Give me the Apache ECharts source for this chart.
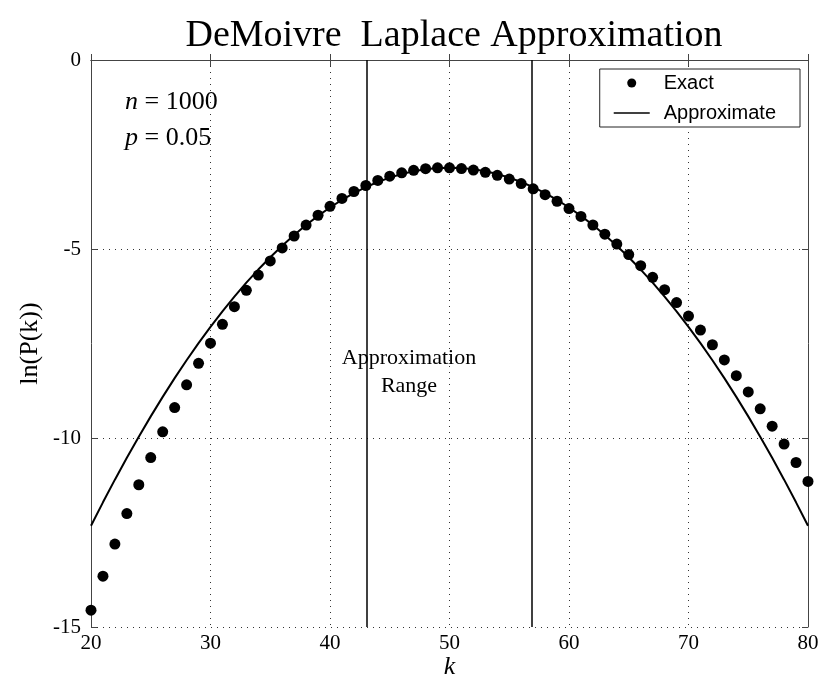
<!DOCTYPE html>
<html>
<head>
<meta charset="utf-8">
<script src="https://cdn.jsdelivr.net/npm/echarts@6/dist/echarts.min.js"></script>
<style>html,body{margin:0;padding:0;background:#fff;}#main{width:818px;height:678px;}</style>
</head>
<body>
<div id="main"></div>
<script>
// k values (x axis)
var kValues = [20,21,22,23,24,25,26,27,28,29,30,31,32,33,34,35,36,37,38,39,40,41,42,43,44,45,46,47,48,49,50,
  51,52,53,54,55,56,57,58,59,60,61,62,63,64,65,66,67,68,69,70,71,72,73,74,75,76,77,78,79,80];
// Exact ln(P(k)) values (dots)
var exactValues = [-14.554,-13.656,-12.805,-11.999,-11.237,-10.517,-9.837,-9.196,-8.592,-8.025,
  -7.492,-6.993,-6.527,-6.092,-5.689,-5.316,-4.972,-4.656,-4.368,-4.107,
  -3.872,-3.663,-3.479,-3.320,-3.185,-3.073,-2.984,-2.918,-2.874,-2.852,
  -2.851,
  -2.871,-2.911,-2.971,-3.051,-3.151,-3.270,-3.407,-3.563,-3.737,-3.929,
  -4.138,-4.365,-4.609,-4.870,-5.147,-5.441,-5.750,-6.076,-6.417,-6.774,
  -7.146,-7.533,-7.935,-8.351,-8.782,-9.228,-9.687,-10.161,-10.648,-11.149];
// Approximate ln(P(k)) values (solid line)
var approxValues = [-12.323,-11.702,-11.102,-10.523,-9.965,-9.428,-8.912,-8.417,-7.944,-7.491,
  -7.060,-6.649,-6.260,-5.891,-5.544,-5.217,-4.912,-4.628,-4.365,-4.123,
  -3.902,-3.702,-3.523,-3.365,-3.228,-3.112,-3.017,-2.944,-2.891,-2.860,
  -2.849,
  -2.860,-2.891,-2.944,-3.017,-3.112,-3.228,-3.365,-3.523,-3.702,-3.902,
  -4.123,-4.365,-4.628,-4.912,-5.217,-5.544,-5.891,-6.260,-6.649,-7.060,
  -7.491,-7.944,-8.417,-8.912,-9.428,-9.965,-10.523,-11.102,-11.702,-12.323];
// Approximation range bounds
var rangeBounds = [43.1, 56.9];
// Axis ticks
var xTicks = [20,30,40,50,60,70,80];
var yTicks = [-15,-10,-5,0];

var serif = '"Liberation Serif","Times New Roman",serif';
var sans = '"Liberation Sans",Arial,sans-serif';

var exactData = kValues.map(function(k,i){return [k, exactValues[i]];});
var approxData = kValues.map(function(k,i){return [k, approxValues[i]];});

var chart = echarts.init(document.getElementById('main'), null, {renderer:'canvas'});
var axisLineStyle = {color:'#444', width:1};
var gridLineStyle = {color:'#333', width:1, type:[1,5]};

chart.setOption({
  animation:false,
  backgroundColor:'#fff',
  title:{
    text:'DeMoivre  Laplace Approximation',
    left:449, textAlign:'center', top:12,
    textStyle:{fontFamily:serif, fontSize:38, fontWeight:'normal', color:'#000'}
  },
  legend:{
    right:18, top:69,
    orient:'vertical',
    backgroundColor:'#fff',
    borderColor:'#222', borderWidth:1, borderRadius:0,
    padding:[4,24,4,14],
    itemWidth:36, itemHeight:9, itemGap:10,
    textStyle:{fontFamily:sans, fontSize:20, color:'#000', padding:[0,0,0,9]},
    data:[
      {name:'Exact', icon:'circle', itemStyle:{color:'#000', opacity:1}},
      {name:'Approximate', icon:'path://M0,0 L36,0 L36,1.6 L0,1.6 Z', itemStyle:{color:'#000'}}
    ]
  },
  grid:{left:91, right:10, top:60, bottom:51, show:false, outerBoundsMode:'none', containLabel:false},
  xAxis:[{
    type:'value', min:20, max:80, interval:10,
    name:'k', nameLocation:'middle', nameGap:27, nameMoveOverlap:false,
    nameTextStyle:{fontFamily:serif, fontStyle:'italic', fontSize:26, color:'#000'},
    axisLine:{show:true, lineStyle:axisLineStyle},
    axisTick:{show:true, inside:true, length:6, lineStyle:axisLineStyle},
    axisLabel:{fontFamily:serif, fontSize:21, color:'#000', margin:6},
    splitLine:{show:true, lineStyle:gridLineStyle}
  },{
    type:'value', min:20, max:80, interval:10, position:'top',
    axisLine:{show:true, onZero:false, lineStyle:axisLineStyle},
    axisTick:{show:true, inside:true, length:6, lineStyle:axisLineStyle},
    axisLabel:{show:false}, splitLine:{show:false}
  }],
  yAxis:[{
    type:'value', min:-15, max:0, interval:5,
    name:'ln(P(k))', nameLocation:'middle', nameGap:48, nameRotate:90, nameMoveOverlap:false,
    nameTextStyle:{fontFamily:serif, fontSize:26, color:'#000'},
    axisLine:{show:true, onZero:false, lineStyle:axisLineStyle},
    axisTick:{show:true, inside:true, length:6, lineStyle:axisLineStyle},
    axisLabel:{fontFamily:serif, fontSize:21, color:'#000', margin:10},
    splitLine:{show:true, lineStyle:gridLineStyle}
  },{
    type:'value', min:-15, max:0, interval:5, position:'right',
    axisLine:{show:true, onZero:false, lineStyle:axisLineStyle},
    axisTick:{show:true, inside:true, length:6, lineStyle:axisLineStyle},
    axisLabel:{show:false}, splitLine:{show:false}
  }],
  series:[{
    name:'Exact', type:'scatter', data:exactData,
    symbol:'circle', symbolSize:11, clip:false,
    itemStyle:{color:'#000', opacity:1}, z:5
  },{
    name:'Approximate', type:'line', data:approxData,
    showSymbol:false, symbol:'none', smooth:false,
    lineStyle:{color:'#000', width:2}, itemStyle:{color:'#000'},
    markLine:{
      silent:true, symbol:['none','none'], label:{show:false},
      lineStyle:{color:'#000', width:1.5, type:'solid'},
      data:[{xAxis:rangeBounds[0]},{xAxis:rangeBounds[1]}]
    }
  }],
  graphic:[{
    type:'text', left:125, top:84,
    style:{
      text:'{i|n} = 1000\n{i|p} = 0.05',
      font:'26px ' + serif, fill:'#000', lineHeight:36,
      rich:{i:{fontFamily:serif, fontStyle:'italic', fontSize:26, fill:'#000'}}
    }
  },{
    type:'text', left:'center', top:344,
    style:{
      text:'Approximation\nRange', textAlign:'center',
      font:'22px ' + serif, fill:'#000', lineHeight:28
    }
  }]
});
</script>
</body>
</html>
